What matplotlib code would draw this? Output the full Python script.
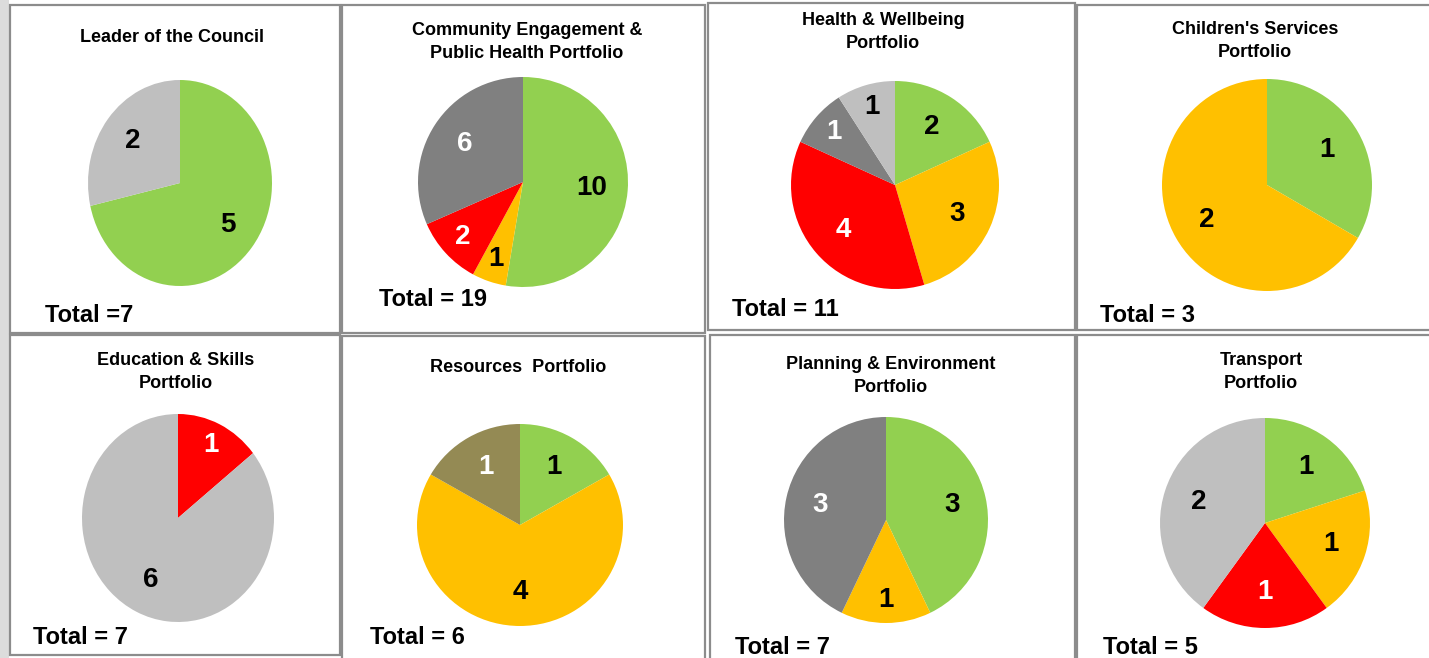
import numpy as np
import matplotlib.pyplot as plt
from matplotlib.patches import Rectangle

# colours used in the RAG-style pies
GREEN = '#92d050'
AMBER = '#ffc000'
RED = '#ff0000'
DGREY = '#808080'
LGREY = '#bfbfbf'
OLIVE = '#948a54'

titles = ['Leader of the Council',
          'Community Engagement &\nPublic Health Portfolio',
          'Health & Wellbeing\nPortfolio',
          "Children's Services\nPortfolio",
          'Education & Skills\nPortfolio',
          'Resources  Portfolio',
          'Planning & Environment\nPortfolio',
          'Transport\nPortfolio']
values = [[5, 2],
          [10, 1, 2, 6],
          [2, 3, 4, 1, 1],
          [1, 2],
          [1, 6],
          [1, 4, 1],
          [3, 1, 3],
          [1, 1, 1, 2]]
colours = [[GREEN, LGREY],
           [GREEN, AMBER, RED, DGREY],
           [GREEN, AMBER, RED, DGREY, LGREY],
           [GREEN, AMBER],
           [RED, LGREY],
           [GREEN, AMBER, OLIVE],
           [GREEN, AMBER, DGREY],
           [GREEN, AMBER, RED, LGREY]]
totals = ['Total =7', 'Total = 19', 'Total = 11', 'Total = 3',
          'Total = 7', 'Total = 6', 'Total = 7', 'Total = 5']

# layout in screen pixels (the reference is a screenshot of a slide)
W, H = 1429, 658
boxes = [(10, 5, 340, 333), (342, 5, 705, 333), (708, 3, 1075, 330), (1077, 5, 1440, 330),
         (10, 335, 340, 655), (342, 336, 705, 670), (710, 335, 1075, 670), (1077, 335, 1440, 670)]
pies = [(180, 183, 92, 103), (523, 182, 105, 105), (895, 185, 104, 104), (1267, 185, 105, 106),
        (178, 518, 96, 104), (520, 525, 103, 101), (886, 520, 102, 103), (1265, 523, 105, 105)]
title_pos = [(172, 37), (527, 42), (883, 32), (1255, 41),
             (176, 372), (518, 367), (891, 376), (1261, 372)]
total_pos = [(45, 315), (379, 299), (732, 310), (1100, 316),
             (33, 637), (370, 637), (735, 647), (1103, 647)]

plt.rcParams['font.family'] = ['Liberation Sans', 'DejaVu Sans']

fig = plt.figure(figsize=(W / 100, H / 100), dpi=100)
fig.patch.set_facecolor('white')


def fx(x):
    return x / W


def fy(y):
    return 1 - y / H


# grey strip on the left edge of the screenshot
fig.add_artist(Rectangle((0, 0), fx(9), 1, transform=fig.transFigure,
                         facecolor='#dcdcdc', edgecolor='none', zorder=0))

for i in range(8):
    x0, y0, x1, y1 = boxes[i]
    fig.add_artist(Rectangle((fx(x0), fy(y1)), fx(x1 - x0), (y1 - y0) / H,
                             transform=fig.transFigure, facecolor='white',
                             edgecolor='#8c8c8c', linewidth=1.6, zorder=0))

    cx, cy, rx, ry = pies[i]
    ax = fig.add_axes([fx(cx - rx), fy(cy + ry), 2 * rx / W, 2 * ry / H])
    wedges, _ = ax.pie(values[i], colors=colours[i], startangle=90,
                       counterclock=False, radius=1,
                       wedgeprops=dict(linewidth=0))
    ax.set_xlim(-1, 1)
    ax.set_ylim(-1, 1)
    ax.set_aspect('auto')
    ax.axis('off')

    tot = sum(values[i])
    for w, v, c in zip(wedges, values[i], colours[i]):
        mid = np.deg2rad((w.theta1 + w.theta2) / 2)
        r = 0.66 if v / tot > 0.15 else 0.78
        tc = 'white' if c in (RED, DGREY, OLIVE) else 'black'
        ax.text(r * np.cos(mid), r * np.sin(mid), str(v), ha='center', va='center',
                fontsize=20, fontweight='bold', color=tc)

    tx, ty = title_pos[i]
    fig.text(fx(tx), fy(ty), titles[i], ha='center', va='center',
             fontsize=13, fontweight='bold', linespacing=1.45)
    px, py = total_pos[i]
    fig.text(fx(px), fy(py), totals[i], ha='left', va='center',
             fontsize=17, fontweight='bold')

fig.savefig('out.png', dpi=100)
